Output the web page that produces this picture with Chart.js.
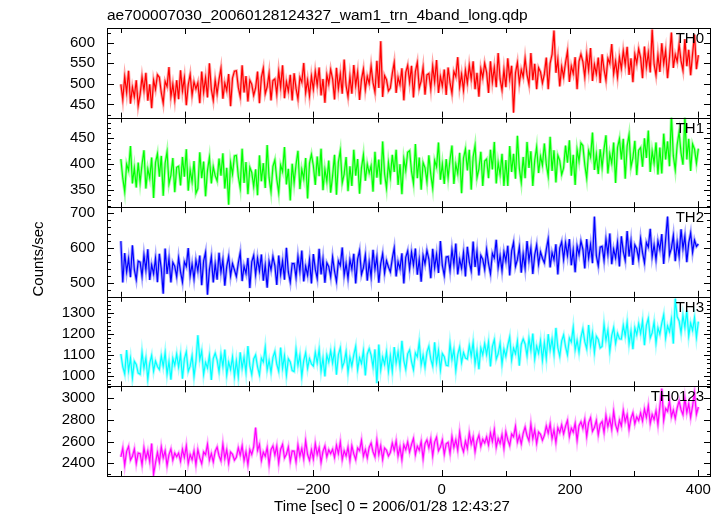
<!DOCTYPE html>
<html lang="en">
<head>
<meta charset="UTF-8">
<title>ae700007030 wam1 trn 4band long</title>
<script src="https://cdn.jsdelivr.net/npm/chart.js"></script>
<style>
  html, body { margin: 0; padding: 0; background: #fff; }
  #wrap { position: relative; width: 724px; height: 516px; }
</style>
</head>
<body>
<div id="wrap"><canvas id="lc" width="724" height="516"></canvas></div>
<script>
// time bins: 3 s, from -500 s to +400 s (301 bins)
const T_START = -500;
const T_STEP = 3;

// count rates (counts/sec), 10 bins per row
const th0 = [
  499, 462, 517, 479, 532, 452, 492, 469, 509, 447,
  474, 517, 484, 527, 459, 499, 441, 509, 487, 522,
  516, 479, 453, 506, 494, 541, 469, 499, 461, 509,
  463, 533, 483, 515, 448, 498, 523, 473, 505, 488,
  503, 453, 530, 480, 515, 467, 550, 487, 460, 509,
  476, 511, 538, 464, 502, 484, 524, 446, 514, 531,
  532, 492, 469, 545, 479, 519, 457, 509, 499, 472,
  490, 530, 453, 516, 538, 476, 493, 526, 460, 508,
  512, 475, 530, 492, 545, 465, 505, 482, 522, 460,
  526, 489, 463, 516, 504, 551, 479, 509, 471, 519,
  487, 530, 497, 540, 472, 512, 454, 522, 500, 535,
  512, 462, 539, 489, 524, 476, 559, 496, 469, 518,
  476, 546, 496, 528, 461, 511, 536, 486, 518, 501,
  543, 503, 480, 556, 490, 604, 468, 520, 510, 483,
  490, 525, 552, 478, 516, 498, 538, 460, 528, 545,
  504, 544, 467, 530, 552, 490, 507, 540, 474, 522,
  525, 488, 543, 505, 558, 478, 518, 495, 535, 473,
  540, 503, 477, 530, 518, 565, 493, 523, 485, 533,
  502, 545, 512, 555, 487, 527, 469, 537, 515, 550,
  528, 478, 555, 505, 540, 492, 575, 512, 485, 534,
  492, 562, 512, 544, 430, 527, 552, 502, 534, 517,
  562, 522, 499, 575, 509, 549, 487, 539, 529, 502,
  524, 564, 487, 550, 572, 630, 527, 560, 494, 542,
  517, 552, 579, 505, 543, 525, 565, 487, 555, 572,
  554, 517, 572, 534, 587, 507, 547, 524, 564, 502,
  572, 535, 509, 562, 550, 597, 525, 555, 517, 565,
  537, 580, 547, 590, 522, 562, 504, 572, 550, 585,
  564, 514, 591, 541, 576, 528, 632, 548, 521, 570,
  529, 599, 549, 581, 514, 564, 625, 539, 571, 554,
  596, 556, 533, 609, 543, 583, 521, 573, 620, 536,
  570
];
const th1 = [
  410, 373, 347, 400, 388, 435, 363, 393, 355, 403,
  365, 400, 427, 353, 391, 373, 413, 335, 403, 420,
  376, 416, 339, 402, 424, 362, 379, 412, 346, 394,
  396, 359, 414, 376, 429, 349, 389, 366, 406, 344,
  353, 423, 373, 405, 338, 388, 413, 363, 395, 378,
  368, 411, 378, 421, 353, 393, 322, 403, 381, 416,
  417, 377, 354, 430, 364, 404, 342, 394, 384, 357,
  390, 340, 417, 367, 402, 354, 437, 374, 347, 396,
  408, 371, 345, 398, 386, 433, 361, 391, 330, 401,
  364, 399, 426, 352, 390, 372, 412, 334, 402, 419,
  397, 360, 415, 377, 430, 350, 390, 367, 407, 345,
  378, 418, 341, 404, 426, 364, 381, 414, 348, 396,
  358, 428, 378, 410, 343, 393, 418, 368, 400, 383,
  397, 347, 424, 374, 409, 361, 444, 381, 354, 403,
  375, 418, 385, 428, 360, 400, 342, 410, 388, 423,
  426, 386, 363, 439, 373, 413, 351, 403, 393, 366,
  417, 380, 354, 407, 395, 442, 370, 400, 362, 410,
  374, 409, 436, 362, 400, 382, 422, 344, 412, 429,
  388, 428, 351, 414, 436, 374, 391, 424, 358, 406,
  410, 373, 428, 390, 443, 363, 403, 380, 420, 358,
  408, 358, 435, 385, 420, 372, 455, 392, 365, 414,
  373, 443, 393, 425, 358, 408, 433, 383, 415, 398,
  440, 400, 377, 453, 387, 427, 365, 417, 407, 380,
  393, 436, 403, 446, 378, 418, 360, 428, 406, 441,
  436, 399, 373, 426, 414, 461, 389, 419, 381, 429,
  394, 429, 456, 382, 420, 402, 442, 364, 432, 449,
  409, 449, 372, 435, 457, 395, 412, 445, 379, 427,
  432, 395, 450, 412, 465, 385, 425, 402, 442, 380,
  432, 382, 459, 409, 444, 396, 495, 416, 389, 438,
  462, 422, 399, 492, 409, 449, 387, 439, 429, 402,
  430
];
const th2 = [
  620, 502, 586, 532, 570, 517, 608, 539, 510, 563,
  560, 520, 580, 538, 597, 509, 552, 527, 571, 503,
  584, 541, 470, 599, 526, 570, 502, 559, 548, 519,
  572, 532, 503, 561, 548, 600, 521, 554, 512, 565,
  535, 579, 494, 564, 588, 467, 539, 575, 502, 555,
  510, 587, 532, 567, 493, 548, 576, 521, 556, 538,
  519, 557, 587, 506, 548, 528, 572, 486, 561, 579,
  524, 571, 535, 582, 507, 551, 487, 562, 538, 576,
  550, 495, 579, 525, 563, 510, 601, 532, 503, 556,
  556, 516, 576, 534, 593, 505, 548, 523, 567, 499,
  583, 540, 514, 598, 525, 569, 501, 558, 547, 518,
  574, 534, 505, 563, 550, 602, 523, 556, 514, 567,
  540, 584, 499, 569, 593, 525, 544, 580, 507, 560,
  518, 595, 540, 575, 501, 556, 584, 529, 564, 546,
  532, 570, 600, 519, 561, 541, 585, 499, 574, 592,
  541, 588, 552, 599, 524, 568, 504, 579, 555, 593,
  569, 514, 598, 544, 582, 529, 620, 551, 522, 575,
  576, 536, 596, 554, 613, 525, 568, 543, 587, 519,
  604, 561, 535, 619, 546, 590, 522, 579, 568, 539,
  596, 556, 527, 585, 572, 624, 545, 578, 536, 589,
  563, 607, 522, 592, 616, 548, 567, 603, 530, 583,
  543, 620, 565, 600, 526, 581, 609, 554, 589, 571,
  558, 596, 626, 545, 587, 567, 611, 525, 600, 618,
  568, 615, 579, 626, 551, 595, 531, 606, 582, 620,
  597, 542, 626, 572, 610, 557, 690, 579, 550, 603,
  605, 565, 625, 583, 642, 554, 597, 572, 616, 548,
  634, 591, 565, 649, 576, 620, 552, 609, 598, 569,
  627, 587, 558, 616, 603, 655, 576, 609, 567, 620,
  596, 640, 555, 625, 690, 581, 600, 636, 563, 616,
  577, 654, 599, 634, 560, 615, 643, 588, 623, 605,
  612
];
const th3 = [
  1105, 1044, 1010, 1124, 1025, 1085, 992, 1070, 1055, 1014,
  1008, 1113, 1038, 1086, 985, 1061, 1098, 1023, 1071, 1045,
  1031, 1096, 1046, 1111, 1009, 1069, 982, 1084, 1051, 1104,
  1043, 1103, 987, 1082, 1115, 1022, 1047, 1097, 998, 1070,
  1195, 1079, 1119, 1008, 1065, 1038, 1098, 981, 1083, 1109,
  1076, 1020, 1103, 1046, 1126, 1005, 1066, 1031, 1091, 998,
  1072, 997, 1113, 1037, 1090, 1018, 1143, 1048, 1007, 1081,
  1100, 1044, 1005, 1085, 1067, 1137, 1029, 1074, 1017, 1089,
  1117, 1056, 1022, 1136, 1037, 1097, 1004, 1082, 1067, 1026,
  1021, 1126, 1051, 1099, 998, 1074, 1111, 1036, 1084, 1058,
  1047, 1112, 1062, 1127, 1025, 1085, 998, 1100, 1067, 1120,
  1062, 1122, 1006, 1101, 1134, 1041, 1066, 1116, 1017, 1089,
  1048, 1101, 1141, 1030, 1087, 1060, 1120, 1003, 1105, 1131,
  1100, 1044, 1127, 965, 1150, 1029, 1090, 1055, 1115, 1022,
  1097, 1022, 1138, 1062, 1115, 1043, 1168, 1073, 1032, 1106,
  1125, 1069, 1030, 1110, 1092, 1162, 1054, 1099, 1042, 1114,
  1142, 1081, 1047, 1161, 1062, 1122, 1029, 1107, 1092, 1051,
  1049, 1154, 1079, 1127, 1026, 1102, 1139, 1064, 1112, 1086,
  1081, 1146, 1096, 1161, 1059, 1119, 1032, 1134, 1101, 1154,
  1102, 1162, 1046, 1141, 1174, 1081, 1106, 1156, 1057, 1129,
  1094, 1147, 1187, 1076, 1133, 1106, 1166, 1049, 1151, 1177,
  1153, 1097, 1180, 1123, 1203, 1082, 1143, 1108, 1168, 1075,
  1159, 1084, 1200, 1124, 1177, 1105, 1230, 1135, 1094, 1168,
  1196, 1140, 1101, 1181, 1163, 1233, 1125, 1170, 1113, 1185,
  1225, 1164, 1130, 1244, 1145, 1205, 1112, 1190, 1175, 1134,
  1141, 1246, 1171, 1219, 1118, 1194, 1231, 1156, 1204, 1178,
  1177, 1242, 1192, 1257, 1155, 1215, 1128, 1230, 1197, 1250,
  1203, 1263, 1147, 1242, 1275, 1182, 1207, 1257, 1158, 1230,
  1200, 1253, 1293, 1182, 1239, 1212, 1272, 1155, 1370, 1283,
  1263, 1207, 1290, 1233, 1313, 1192, 1253, 1218, 1278, 1185,
  1260
];
const th0123 = [
  2459, 2539, 2385, 2511, 2555, 2431, 2465, 2531, 2399, 2495,
  2489, 2389, 2543, 2443, 2513, 2417, 2583, 2300, 2403, 2501,
  2411, 2551, 2451, 2515, 2381, 2481, 2531, 2431, 2495, 2461,
  2494, 2420, 2530, 2454, 2560, 2400, 2480, 2434, 2514, 2390,
  2524, 2450, 2398, 2504, 2480, 2574, 2430, 2490, 2414, 2510,
  2550, 2470, 2424, 2576, 2444, 2524, 2400, 2504, 2484, 2430,
  2456, 2542, 2476, 2562, 2426, 2506, 2390, 2526, 2482, 2552,
  2730, 2520, 2574, 2426, 2502, 2466, 2546, 2390, 2526, 2560,
  2478, 2558, 2404, 2530, 2574, 2450, 2484, 2550, 2418, 2514,
  2513, 2413, 2567, 2467, 2537, 2441, 2607, 2481, 2427, 2525,
  2440, 2580, 2480, 2544, 2410, 2510, 2560, 2460, 2524, 2490,
  2529, 2455, 2565, 2489, 2595, 2435, 2515, 2469, 2549, 2425,
  2561, 2487, 2435, 2541, 2517, 2611, 2467, 2527, 2451, 2547,
  2587, 2507, 2461, 2613, 2481, 2561, 2437, 2541, 2521, 2467,
  2500, 2586, 2520, 2606, 2470, 2550, 2434, 2570, 2526, 2596,
  2505, 2575, 2629, 2481, 2557, 2521, 2601, 2445, 2581, 2615,
  2544, 2624, 2470, 2596, 2640, 2516, 2550, 2616, 2484, 2580,
  2593, 2493, 2647, 2547, 2617, 2521, 2687, 2561, 2507, 2605,
  2538, 2678, 2578, 2642, 2508, 2608, 2658, 2558, 2622, 2588,
  2643, 2569, 2679, 2603, 2709, 2549, 2629, 2583, 2663, 2539,
  2690, 2616, 2564, 2670, 2646, 2740, 2596, 2656, 2580, 2676,
  2734, 2654, 2608, 2760, 2628, 2708, 2584, 2688, 2668, 2614,
  2658, 2744, 2678, 2764, 2628, 2708, 2592, 2728, 2684, 2754,
  2672, 2742, 2796, 2648, 2724, 2688, 2768, 2612, 2748, 2782,
  2724, 2804, 2650, 2776, 2820, 2696, 2730, 2796, 2664, 2760,
  2786, 2686, 2840, 2740, 2810, 2714, 2880, 2754, 2700, 2798,
  2745, 2885, 2785, 2849, 2715, 2815, 2865, 2765, 2829, 2795,
  2864, 2790, 2900, 2824, 2930, 2770, 2850, 2804, 2884, 2760,
  2925, 3090, 2799, 2905, 2881, 2975, 2831, 2891, 2815, 2911,
  2975, 2895, 2849, 3001, 2869, 2949, 2825, 2929, 3050, 2855,
  2920
];

const bandNames = ['TH0', 'TH1', 'TH2', 'TH3', 'TH0123'];
const bandData = [th0, th1, th2, th3, th0123];
const bandColors = ['#ff0000', '#00ff00', '#0000ff', '#00ffff', '#ff00ff'];
const bandHalo = ['rgba(255,0,0,0.35)', 'rgba(0,255,0,0.35)', 'rgba(0,0,255,0.35)', 'rgba(0,255,255,0.35)', 'rgba(255,0,255,0.35)'];

// axis ranges and tick spacing per panel
const yMin = [418, 317, 461, 950, 2283];
const yMax = [636, 490, 717, 1379, 3110];
const yMajor = [50, 50, 100, 100, 200];
const yMinor = [25, 10, 20, 20, 100];
const xMin = -521.6, xMax = 419.7;
const xMajor = 200, xMinor = 100;

const FONT = "'Liberation Sans', Arial, Helvetica, sans-serif";
Chart.defaults.font.family = FONT;
Chart.defaults.font.size = 15;
Chart.defaults.color = '#000';

const minus = v => (v < 0 ? '\u2212' + Math.abs(v) : String(v));

const datasets = [];
bandData.forEach((vals, i) => {
  const pts = vals.map((y, k) => ({ x: T_START + k * T_STEP, y: y }));
  // wide pale pass under the line, like the error bars of the original
  datasets.push({ data: pts, yAxisID: 'y' + i, borderColor: bandHalo[i], borderWidth: 3, pointRadius: 0, tension: 0, fill: false });
  datasets.push({ label: bandNames[i], data: pts, yAxisID: 'y' + i, borderColor: bandColors[i], borderWidth: 1.2, pointRadius: 0, tension: 0, fill: false });
});

const scales = {
  x: {
    type: 'linear',
    min: xMin,
    max: xMax,
    grid: { display: false, drawTicks: false },
    border: { display: false },
    ticks: { stepSize: xMajor, includeBounds: false, padding: 5, maxRotation: 0, callback: v => minus(v) },
    afterFit: s => { s.height = 40; }
  }
};
// last defined axis is stacked on top, so go from bottom panel to top panel
for (let i = 4; i >= 0; i--) {
  scales['y' + i] = {
    type: 'linear',
    position: 'left',
    stack: 'bands',
    stackWeight: 1,
    min: yMin[i],
    max: yMax[i],
    grid: { display: false, drawTicks: false },
    border: { display: false },
    ticks: { padding: 12, autoSkip: false, callback: v => String(v) },
    afterBuildTicks: s => {
      const t = [];
      for (let v = Math.ceil(yMin[i] / yMajor[i]) * yMajor[i]; v <= yMax[i]; v += yMajor[i]) t.push({ value: v });
      s.ticks = t;
    },
    afterFit: s => { s.width = 107; }
  };
}

// clip each band to its own panel
const panelClip = {
  id: 'panelClip',
  beforeDatasetDraw(chart, args) {
    const s = chart.scales[args.meta.yAxisID];
    const a = chart.chartArea;
    chart.ctx.save();
    chart.ctx.beginPath();
    chart.ctx.rect(a.left, s.top, a.right - a.left, s.bottom - s.top);
    chart.ctx.clip();
  },
  afterDatasetDraw(chart) {
    chart.ctx.restore();
  }
};

// frames, inward ticks, band names and labels
const qdpFrame = {
  id: 'qdpFrame',
  afterDraw(chart) {
    const ctx = chart.ctx;
    const a = chart.chartArea;
    const xs = chart.scales.x;
    ctx.save();
    ctx.strokeStyle = '#000';
    ctx.lineWidth = 1;
    for (let i = 0; i < 5; i++) {
      const s = chart.scales['y' + i];
      ctx.strokeRect(a.left + 0.5, Math.round(s.top) + 0.5, a.right - a.left - 1, Math.round(s.bottom) - Math.round(s.top));
      ctx.beginPath();
      for (let v = Math.ceil(yMin[i] / yMinor[i]) * yMinor[i]; v <= yMax[i]; v += yMinor[i]) {
        const y = Math.round(s.getPixelForValue(v)) + 0.5;
        const len = v % yMajor[i] === 0 ? 7 : 4;
        ctx.moveTo(a.left, y); ctx.lineTo(a.left + len, y);
        ctx.moveTo(a.right, y); ctx.lineTo(a.right - len, y);
      }
      for (let v = Math.ceil(xMin / xMinor) * xMinor; v <= xMax; v += xMinor) {
        const x = Math.round(xs.getPixelForValue(v)) + 0.5;
        const len = v % xMajor === 0 ? 6 : 5;
        ctx.moveTo(x, s.top); ctx.lineTo(x, s.top + len);
        ctx.moveTo(x, s.bottom); ctx.lineTo(x, s.bottom - len);
      }
      ctx.stroke();
      ctx.fillStyle = '#000';
      ctx.font = '15px ' + FONT;
      ctx.textAlign = 'right';
      ctx.textBaseline = 'alphabetic';
      ctx.fillText(bandNames[i], a.right - 7, s.top + 15);
    }
    ctx.textAlign = 'left';
    ctx.font = '15.5px ' + FONT;
    ctx.fillText('ae700007030_20060128124327_wam1_trn_4band_long.qdp', a.left, 20);
    ctx.font = '15px ' + FONT;
    ctx.textAlign = 'center';
    ctx.fillText('Time [sec] 0 = 2006/01/28 12:43:27', 392, 511);
    ctx.translate(39, 259);
    ctx.rotate(-Math.PI / 2);
    ctx.textBaseline = 'middle';
    ctx.fillText('Counts/sec', 0, 0);
    ctx.restore();
  }
};

new Chart(document.getElementById('lc'), {
  type: 'line',
  data: { datasets: datasets },
  options: {
    responsive: false,
    animation: false,
    devicePixelRatio: 1,
    layout: { padding: { top: 28, right: 13, left: 0, bottom: 0 } },
    plugins: { legend: { display: false }, title: { display: false }, tooltip: { enabled: false } },
    scales: scales
  },
  plugins: [panelClip, qdpFrame]
});
</script>
</body>
</html>
